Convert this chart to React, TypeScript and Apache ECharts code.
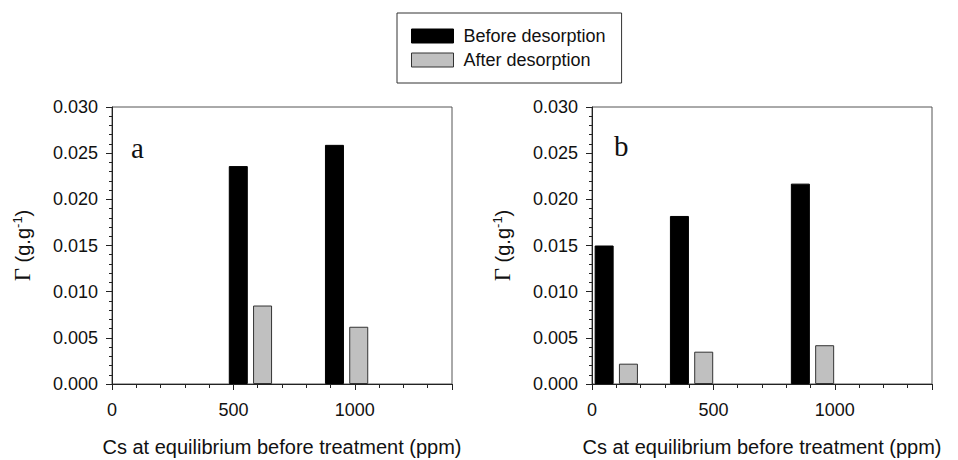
import React, { useEffect, useRef } from "react";
import * as echarts from "echarts";

// ---- data ----
const seriesNames = ["Before desorption", "After desorption"];
const panelLabels = ["a", "b"];
const xTickLabels = [0, 500, 1000];
const xMax = 1400;
const yMax = 0.03;

// panel a
const aBeforeX = [520, 916];
const aBeforeY = [0.0236, 0.0259];
const aAfterX = [620, 1016];
const aAfterY = [0.0085, 0.0062];

// panel b
const bBeforeX = [50, 360, 858];
const bBeforeY = [0.015, 0.0182, 0.0217];
const bAfterX = [150, 460, 958];
const bAfterY = [0.0022, 0.0035, 0.0042];

const SANS = "Liberation Sans, Arial, sans-serif";
const SERIF = "Liberation Serif, Times New Roman, serif";
const BLACK = "#000000";
const GRAY = "#c0c0c0";

const pair = (xs: number[], ys: number[]) => xs.map((x, i) => [x, ys[i]]);

export default function App() {
  const ref = useRef<HTMLDivElement>(null);

  useEffect(() => {
    if (!ref.current) return;
    const chart = echarts.init(ref.current, undefined, { renderer: "svg" });

    const grids = [
      { left: 112, top: 107, width: 340, height: 277 },
      { left: 592, top: 107, width: 340, height: 277 },
    ];

    const xAxes: any[] = [];
    const yAxes: any[] = [];
    grids.forEach((_, g) => {
      // fine ticks every 100 + labels
      xAxes.push({
        type: "value",
        gridIndex: g,
        min: 0,
        max: xMax,
        interval: 100,
        position: "bottom",
        axisLine: { show: true, onZero: false, lineStyle: { color: "#222", width: 1 } },
        axisTick: { show: true, length: 4, lineStyle: { color: "#222" } },
        splitLine: { show: false },
        axisLabel: {
          interval: 0,
          margin: 17,
          fontFamily: SANS,
          fontSize: 18,
          color: "#111",
          formatter: (v: number) => (xTickLabels.includes(v) ? String(v) : ""),
        },
        name: "Cs at equilibrium before treatment (ppm)",
        nameLocation: "middle",
        nameGap: 53,
        nameTextStyle: { fontFamily: SANS, fontSize: 20, lineHeight: 20, color: "#111" },
      });
      // major ticks every 500
      xAxes.push({
        type: "value",
        gridIndex: g,
        min: 0,
        max: xMax,
        interval: 500,
        position: "bottom",
        axisLine: { show: false, onZero: false },
        axisTick: { show: true, length: 6, lineStyle: { color: "#222" } },
        splitLine: { show: false },
        axisLabel: { show: false },
      });
      yAxes.push({
        type: "value",
        gridIndex: g,
        min: 0,
        max: yMax,
        interval: 0.005,
        axisLine: { show: true, onZero: false, lineStyle: { color: "#222", width: 1 } },
        axisTick: { show: true, length: 6, lineStyle: { color: "#222" } },
        minorTick: { show: true, splitNumber: 5, length: 3, lineStyle: { color: "#222" } },
        splitLine: { show: false },
        axisLabel: {
          margin: 14,
          fontFamily: SANS,
          fontSize: 18,
          color: "#111",
          formatter: (v: number) => v.toFixed(3),
        },
        name: "{g|Γ} (g.g{sup|-1})",
        nameLocation: "middle",
        nameGap: 78,
        nameRotate: 90,
        nameTextStyle: {
          fontFamily: SANS,
          fontSize: 20,
          color: "#111",
          rich: {
            g: { fontFamily: SERIF, fontSize: 23, color: "#111" },
            sup: { fontFamily: SANS, fontSize: 13, color: "#111", verticalAlign: "top", padding: [0, 0, 10, 0] },
          },
        },
      });
    });

    const barBase = {
      type: "bar",
      barWidth: 19,
      barGap: "-100%",
      animation: false,
    };

    const series: any[] = [
      { ...barBase, name: seriesNames[0], xAxisIndex: 0, yAxisIndex: 0, data: pair(aBeforeX, aBeforeY), itemStyle: { color: BLACK, borderColor: "#000", borderWidth: 1 } },
      { ...barBase, name: seriesNames[1], xAxisIndex: 0, yAxisIndex: 0, data: pair(aAfterX, aAfterY), itemStyle: { color: GRAY, borderColor: "#333", borderWidth: 1 } },
      { ...barBase, name: seriesNames[0], xAxisIndex: 2, yAxisIndex: 1, data: pair(bBeforeX, bBeforeY), itemStyle: { color: BLACK, borderColor: "#000", borderWidth: 1 } },
      { ...barBase, name: seriesNames[1], xAxisIndex: 2, yAxisIndex: 1, data: pair(bAfterX, bAfterY), itemStyle: { color: GRAY, borderColor: "#333", borderWidth: 1 } },
    ];

    chart.setOption({
      animation: false,
      backgroundColor: "#ffffff",
      grid: grids.map((g) => ({
        ...g,
        containLabel: false,
        outerBoundsMode: "none",
        show: true,
        borderColor: "#555",
        borderWidth: 1,
        backgroundColor: "transparent",
      })),
      xAxis: xAxes,
      yAxis: yAxes,
      legend: {
        show: true,
        orient: "vertical",
        left: 397,
        top: 13,
        padding: [14, 16, 14, 14],
        itemGap: 6,
        itemWidth: 42,
        itemHeight: 14,
        borderColor: "#333",
        borderWidth: 1,
        selectedMode: false,
        textStyle: { fontFamily: SANS, fontSize: 18, color: "#111", padding: [0, 0, 0, 5] },
        data: [
          { name: seriesNames[0], icon: "rect", itemStyle: { color: BLACK, borderColor: "#000", borderWidth: 1 } },
          { name: seriesNames[1], icon: "rect", itemStyle: { color: GRAY, borderColor: "#333", borderWidth: 1 } },
        ],
      },
      graphic: [
        {
          type: "text",
          left: 131,
          top: 133,
          style: { text: panelLabels[0], fontFamily: SERIF, fontSize: 29, fill: "#111" },
        },
        {
          type: "text",
          left: 614,
          top: 131,
          style: { text: panelLabels[1], fontFamily: SERIF, fontSize: 29, fill: "#111" },
        },
      ],
      series,
    });

    return () => chart.dispose();
  }, []);

  return (
    <div
      ref={ref}
      style={{ position: "fixed", left: 0, top: 0, width: 958, height: 460, background: "#fff" }}
    />
  );
}
